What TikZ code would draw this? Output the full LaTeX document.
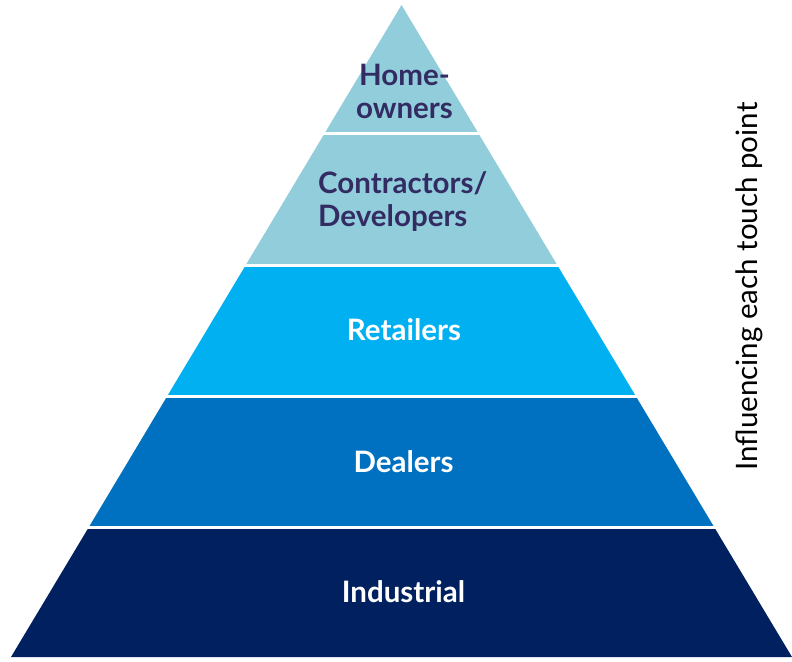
\documentclass[tikz,border=0pt]{standalone}
\usepackage{fontspec}
\setmainfont{Lato}
\definecolor{tierlight}{HTML}{92CDDC}
\definecolor{tiercyan}{HTML}{00B0F0}
\definecolor{tiermid}{HTML}{0070C0}
\definecolor{tierdark}{HTML}{002060}
\definecolor{labelnavy}{HTML}{322C63}
\tikzset{
  tier/.style={draw=none},
  gapline/.style={white, line width=3pt},
  tierlabel/.style={align=center, inner sep=0pt, font=\bfseries\fontsize{29.5}{33}\selectfont},
  darklabel/.style={tierlabel, text=labelnavy},
  lightlabel/.style={tierlabel, text=white},
  sidelabel/.style={font=\fontsize{29.5}{33}\selectfont, text=black, rotate=90, inner sep=0pt}
}
\begin{document}
\begin{tikzpicture}[x=1pt,y=-1pt]
  \useasboundingbox (0,0) rectangle (792,661);
  % pyramid tiers, top to bottom
  \fill[tier, tierlight] (401.5,5) -- (478.2,133) -- (324.8,133) -- cycle;
  \fill[tier, tierlight] (324.8,133) -- (478.2,133) -- (557.2,265) -- (245.8,265) -- cycle;
  \fill[tier, tiercyan] (245.8,265) -- (557.2,265) -- (635.7,396) -- (167.3,396) -- cycle;
  \fill[tier, tiermid] (167.3,396) -- (635.7,396) -- (714.1,527) -- (88.9,527) -- cycle;
  \fill[tier, tierdark] (88.9,527) -- (714.1,527) -- (792,657) -- (11,657) -- cycle;
  % white gaps between tiers
  \foreach \y in {133,265,396,527} \draw[gapline] (0,\y) -- (792,\y);
  % tier labels
  \node[darklabel] (home) at (404.5,91.5) {Home-\\owners};
  \node[darklabel, align=left, anchor=west] (contractors) at (318,201.5) {Contractors/\\Developers};
  \node[lightlabel] (retailers) at (404,330) {Retailers};
  \node[lightlabel] (dealers) at (403.5,461.5) {Dealers};
  \node[lightlabel] (industrial) at (403.5,592) {Industrial};
  % side caption
  \node[sidelabel] (influence) at (749.5,286.5) {Influencing each touch point};
\end{tikzpicture}
\end{document}
